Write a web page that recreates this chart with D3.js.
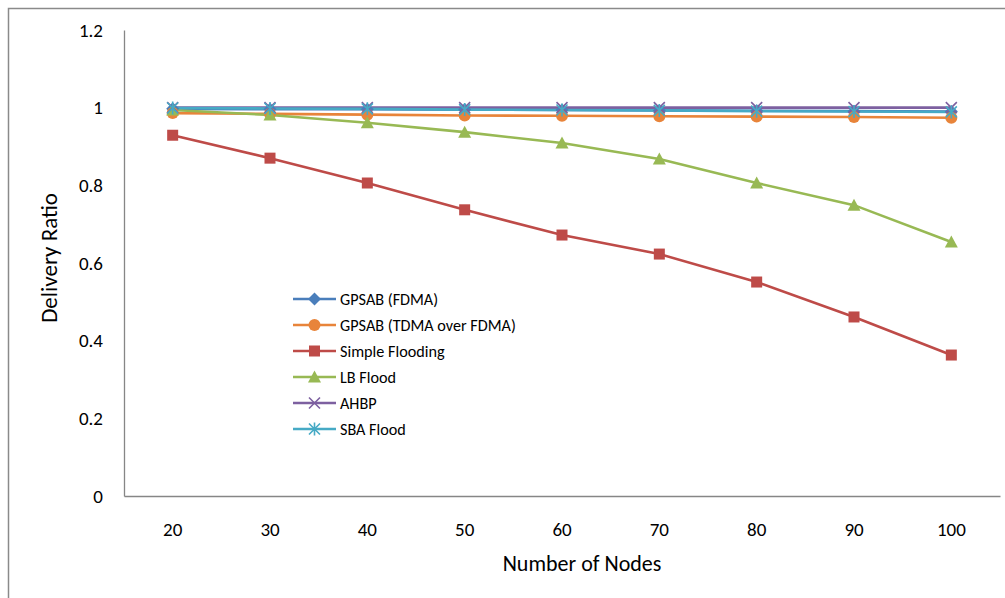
<!DOCTYPE html>
<html><head><meta charset="utf-8">
<script src="https://cdn.jsdelivr.net/npm/d3@7/dist/d3.min.js"></script>
<style>
body{margin:0;background:#fff;}
text{font-family:Calibri,Carlito,Lato,"Liberation Sans",sans-serif;fill:#000;}
</style></head>
<body><svg id="c" width="1005" height="598"></svg>
<script>
const nodes = [20,30,40,50,60,70,80,90,100];
const yTicks = [0,0.2,0.4,0.6,0.8,1,1.2];
const gpsabFdma = [0.997,0.996,0.996,0.995,0.994,0.993,0.992,0.991,0.990];
const gpsabTdma = [0.986,0.984,0.982,0.980,0.979,0.978,0.977,0.976,0.974];
const simpleFlooding = [0.929,0.870,0.806,0.737,0.672,0.623,0.551,0.461,0.363];
const lbFlood = [0.994,0.981,0.961,0.937,0.909,0.868,0.806,0.749,0.654];
const ahbp = [1,1,1,1,1,1,1,1,1];
const sbaFlood = [0.999,0.998,0.997,0.995,0.994,0.993,0.991,0.990,0.989];

const series = [
  {name:"GPSAB (FDMA)", values:gpsabFdma, color:"#4A7EBB", marker:"diamond"},
  {name:"GPSAB (TDMA over FDMA)", values:gpsabTdma, color:"#E8843A", marker:"circle"},
  {name:"Simple Flooding", values:simpleFlooding, color:"#BE4B48", marker:"square"},
  {name:"LB Flood", values:lbFlood, color:"#98B954", marker:"triangle"},
  {name:"AHBP", values:ahbp, color:"#7D60A0", marker:"x"},
  {name:"SBA Flood", values:sbaFlood, color:"#46AAC5", marker:"star"}
];

const svg = d3.select("#c");
svg.append("path").attr("d","M8.5,598 L8.5,8.5 L1005,8.5").attr("fill","none").attr("stroke","#8a8a8a").attr("stroke-width",1.5);

const pLeft=124, pRight=1000, pTop=30, pBottom=496;
const x = d3.scaleBand().domain(nodes).range([pLeft,pRight]);
const y = d3.scaleLinear().domain([0,1.2]).range([pBottom,pTop]);

const yAxis = svg.append("g").attr("transform",`translate(${pLeft},0)`)
  .call(d3.axisLeft(y).tickValues(yTicks).tickSize(0).tickPadding(21).tickFormat(d=>d3.format("")(d)));
yAxis.select(".domain").attr("stroke","#868686").attr("stroke-width",1.3);
yAxis.selectAll("text").style("font-size","19px").attr("font-family",null);

const xAxis = svg.append("g").attr("transform",`translate(0,${pBottom})`)
  .call(d3.axisBottom(x).tickSize(0).tickPadding(27));
xAxis.select(".domain").attr("stroke","#868686").attr("stroke-width",1.3);
xAxis.selectAll("text").style("font-size","19px").attr("font-family",null);

svg.append("text").attr("x",582).attr("y",571).attr("text-anchor","middle").style("font-size","22px").text("Number of Nodes");
svg.append("text").attr("transform","translate(57,258) rotate(-90)").attr("text-anchor","middle").style("font-size","23px").text("Delivery Ratio");

const cx = d => x(d)+x.bandwidth()/2;
const line = d3.line().x((d,i)=>cx(nodes[i])).y(d=>y(d));

function marker(g, type, color, px, py){
  const s = 5.5;
  if(type==="diamond") g.append("path").attr("d",`M${px},${py-s-1}L${px+s+1},${py}L${px},${py+s+1}L${px-s-1},${py}Z`).attr("fill",color);
  else if(type==="circle") g.append("circle").attr("cx",px).attr("cy",py).attr("r",s+0.5).attr("fill",color);
  else if(type==="square") g.append("rect").attr("x",px-s).attr("y",py-s).attr("width",2*s).attr("height",2*s).attr("fill",color);
  else if(type==="triangle") g.append("path").attr("d",`M${px},${py-s-1}L${px+s+1},${py+s}L${px-s-1},${py+s}Z`).attr("fill",color);
  else if(type==="x") g.append("path").attr("d",`M${px-s},${py-s}L${px+s},${py+s}M${px-s},${py+s}L${px+s},${py-s}`).attr("stroke",color).attr("stroke-width",1.6);
  else if(type==="star") g.append("path").attr("d",`M${px-s},${py-s}L${px+s},${py+s}M${px-s},${py+s}L${px+s},${py-s}M${px},${py-s-1}L${px},${py+s+1}`).attr("stroke",color).attr("stroke-width",1.6);
}

series.forEach(s=>{
  svg.append("path").datum(s.values).attr("d",line).attr("fill","none").attr("stroke",s.color).attr("stroke-width",2.6);
});
series.forEach(s=>{
  const g = svg.append("g");
  s.values.forEach((v,i)=>marker(g,s.marker,s.color,cx(nodes[i]),y(v)));
});

const lg = svg.append("g");
series.forEach((s,i)=>{
  const ly = 299 + i*26;
  lg.append("line").attr("x1",293).attr("x2",336).attr("y1",ly).attr("y2",ly).attr("stroke",s.color).attr("stroke-width",2.6);
  marker(lg,s.marker,s.color,314.5,ly);
  lg.append("text").attr("x",340).attr("y",ly+6).style("font-size","16.2px").text(s.name);
});
</script></body></html>
